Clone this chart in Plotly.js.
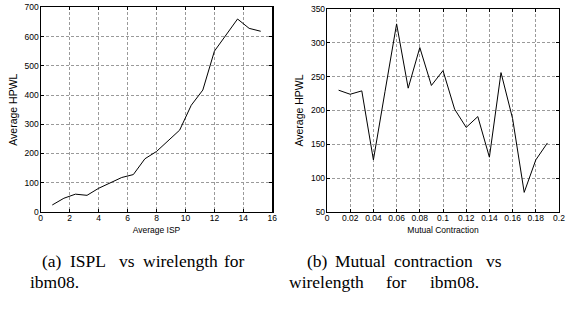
<!DOCTYPE html>
<html>
<head>
<meta charset="utf-8">
<script src="https://cdn.plot.ly/plotly-3.0.1.min.js"></script>
<style>html,body{margin:0;padding:0;background:#fff;}#chart{width:566px;height:317px;}</style>
</head>
<body>
<div id="chart"></div>
<script>
// Panel (a): ISPL vs wirelength
const ispValues = [0.8,1.6,2.4,3.2,4.0,4.8,5.6,6.4,7.2,8.0,8.8,9.6,10.4,11.2,12.0,12.8,13.6,14.4,15.2];
const hpwlA = [24,47,61,57,81,99,118,128,182,207,243,280,365,417,550,603,660,628,618];
// Panel (b): Mutual contraction vs wirelength
const mcValues = [0.01,0.02,0.03,0.04,0.05,0.06,0.07,0.08,0.09,0.10,0.11,0.12,0.13,0.14,0.15,0.16,0.17,0.18,0.19];
const hpwlB = [230,224,229,127,228,328,233,293,237,259,202,175,191,131,256,188,79,127,152];

const xTitleA = "Average ISP";
const xTitleB = "Mutual Contraction";
const yTitle = "Average HPWL";
const captionA1 = ["(a)", "ISPL", "vs", "wirelength", "for"];
const captionA2 = ["ibm08."];
const captionB1 = ["(b)", "Mutual", "contraction", "vs"];
const captionB2 = ["wirelength", "for", "ibm08."];

const W = 566, H = 317;
const sans = "Liberation Sans, Arial, sans-serif";
const serif = "Liberation Serif, Times New Roman, serif";

function axisBase(extra) {
  return Object.assign({
    showgrid: true, gridcolor: "#9a9a9a", griddash: "3px,2px", gridwidth: 1,
    showline: true, linecolor: "#000", linewidth: 1.2, mirror: "ticks",
    ticks: "inside", ticklen: 3, tickcolor: "#000",
    zeroline: false, tickfont: {family: sans, size: 8.5, color: "#000"},
    fixedrange: true
  }, extra);
}

const traces = [
  {x: ispValues, y: hpwlA, type: "scatter", mode: "lines", line: {color: "#000", width: 1}, xaxis: "x", yaxis: "y", hoverinfo: "skip"},
  {x: mcValues, y: hpwlB, type: "scatter", mode: "lines", line: {color: "#000", width: 1}, xaxis: "x2", yaxis: "y2", hoverinfo: "skip"}
];

function px(x) { return x / W; }
function py(y) { return 1 - y / H; }

const annotations = [];
function addWords(words, xs, yc) {
  words.forEach((w, i) => annotations.push({text: w, x: px(xs[i]), y: py(yc), xref: "paper", yref: "paper",
    xanchor: "left", yanchor: "middle", showarrow: false, font: {family: serif, size: 17.5, color: "#000"}}));
}
addWords(captionA1, [40, 68, 117, 141, 222], 261);
addWords(captionA2, [28], 282);
addWords(captionB1, [305, 333, 392, 484], 261);
addWords(captionB2, [287, 384, 428], 282);

const layout = {
  width: W, height: H,
  margin: {l: 0, r: 0, t: 0, b: 0, pad: 0},
  paper_bgcolor: "#fff", plot_bgcolor: "#fff",
  showlegend: false,
  xaxis: axisBase({domain: [px(40.7), px(272.3)], range: [0, 16], dtick: 2, tick0: 0, anchor: "y", ticklabelstandoff: -2,
    title: {text: xTitleA, font: {family: sans, size: 8.5, color: "#000"}, standoff: 4}}),
  yaxis: axisBase({domain: [py(212), py(7.3)], range: [0, 700], dtick: 100, tick0: 0, anchor: "x", ticklabelstandoff: -1,
    title: {text: yTitle, font: {family: sans, size: 10.5, color: "#000"}, standoff: 5}}),
  xaxis2: axisBase({domain: [px(327), px(559)], range: [0, 0.2], dtick: 0.02, tick0: 0, anchor: "y2", ticklabelstandoff: -2,
    title: {text: xTitleB, font: {family: sans, size: 8.5, color: "#000"}, standoff: 4}}),
  yaxis2: axisBase({domain: [py(212), py(9)], range: [50, 350], dtick: 50, tick0: 50, anchor: "x2", ticklabelstandoff: -1,
    title: {text: yTitle, font: {family: sans, size: 10.5, color: "#000"}, standoff: 5}}),
  annotations: annotations
};

Plotly.newPlot("chart", traces, layout, {displayModeBar: false, staticPlot: true});
</script>
</body>
</html>
